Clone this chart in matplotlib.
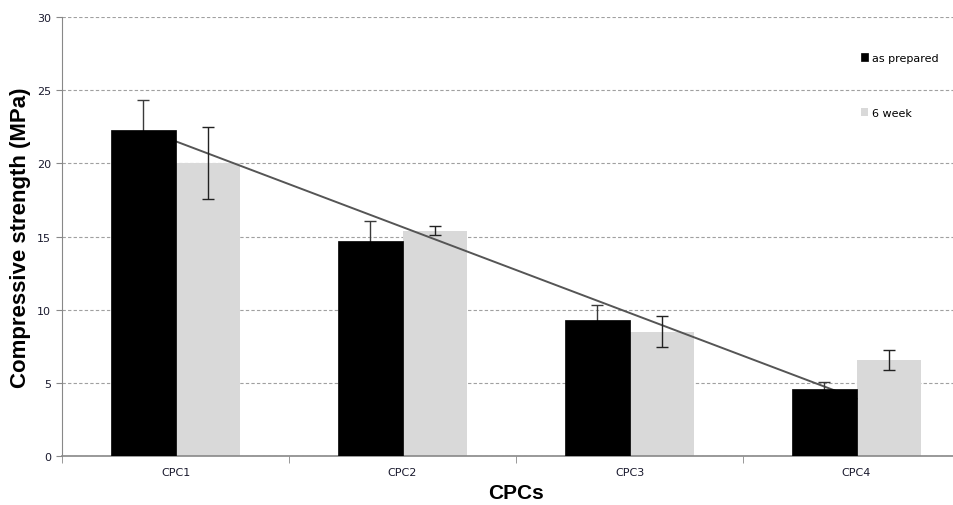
import numpy as np
import matplotlib
matplotlib.use("Agg")
import matplotlib.pyplot as plt

# dane
categories = ["CPC1", "CPC2", "CPC3", "CPC4"]
as_prepared = [22.3, 14.7, 9.3, 4.55]
as_prepared_err = [2.0, 1.35, 1.05, 0.5]
week6 = [20.0, 15.4, 8.5, 6.55]
week6_err = [2.45, 0.3, 1.05, 0.7]
y_ticks = [0, 5, 10, 15, 20, 25, 30]

fig = plt.figure(figsize=(9.54, 5.06), dpi=100)
ax = fig.add_axes([62 / 954, 49 / 506, 908 / 954, 439 / 506])

x = np.arange(len(categories))
w = 0.286

# czarne słupki na wierzchu: linia trendu i dolne wąsy są pod nimi niewidoczne
ax.bar(x - w / 2, as_prepared, w, color="black", edgecolor="black", linewidth=0.5, zorder=4,
       label="as prepared")
ax.bar(x + w / 2, week6, w, color="#d9d9d9", zorder=2, label="6 week")
ax.errorbar(x - w / 2, as_prepared, yerr=as_prepared_err, fmt="none", ecolor="#3a3a3a",
            elinewidth=1, capsize=4, capthick=1, zorder=3.5)
ax.errorbar(x + w / 2, week6, yerr=week6_err, fmt="none", ecolor="#222222",
            elinewidth=1, capsize=4, capthick=1, zorder=3.5)

# linia trendu (regresja liniowa serii "as prepared")
slope, intercept = np.polyfit(x, as_prepared, 1)
ax.plot([x[0], x[-1]], [intercept + slope * x[0], intercept + slope * x[-1]],
        color="#555555", linewidth=1.4, zorder=3)

ax.set_xlim(-0.5, 3.5)
ax.set_ylim(0, 30)
ax.set_yticks(y_ticks)
ax.set_yticklabels([str(t) for t in y_ticks], fontsize=8, color="#1a1a2e")
ax.set_xticks(x)
ax.set_xticklabels(categories, fontsize=8, color="#1a1a2e")
ax.tick_params(axis="x", length=0, pad=8)
ax.tick_params(axis="y", length=4, color="#888888", pad=4)
ax.set_xticks(np.arange(-0.5, 3.6, 1), minor=True)
ax.tick_params(axis="x", which="minor", length=5, color="#888888")

ax.yaxis.grid(True, linestyle=(0, (3, 2)), color="#a0a0a0", linewidth=0.8, zorder=0)
ax.set_axisbelow(True)
for s in ["top", "right"]:
    ax.spines[s].set_visible(False)
ax.spines["left"].set_color("#888888")
ax.spines["bottom"].set_color("#888888")
ax.spines["bottom"].set_linewidth(1.2)

ax.set_ylabel("Compressive strength (MPa)", fontsize=16, fontweight="bold",
              family="Liberation Sans", labelpad=4)
ax.set_xlabel("CPCs", fontsize=15, fontweight="bold", family="Liberation Sans", labelpad=4)

fig.legend(loc="upper left", bbox_to_anchor=(855 / 954, 1 - 48 / 506), frameon=False,
           fontsize=8, handlelength=0.7, handleheight=0.7, handletextpad=0.3,
           labelspacing=4.1, borderpad=0)

fig.savefig("out.png", dpi=100)
